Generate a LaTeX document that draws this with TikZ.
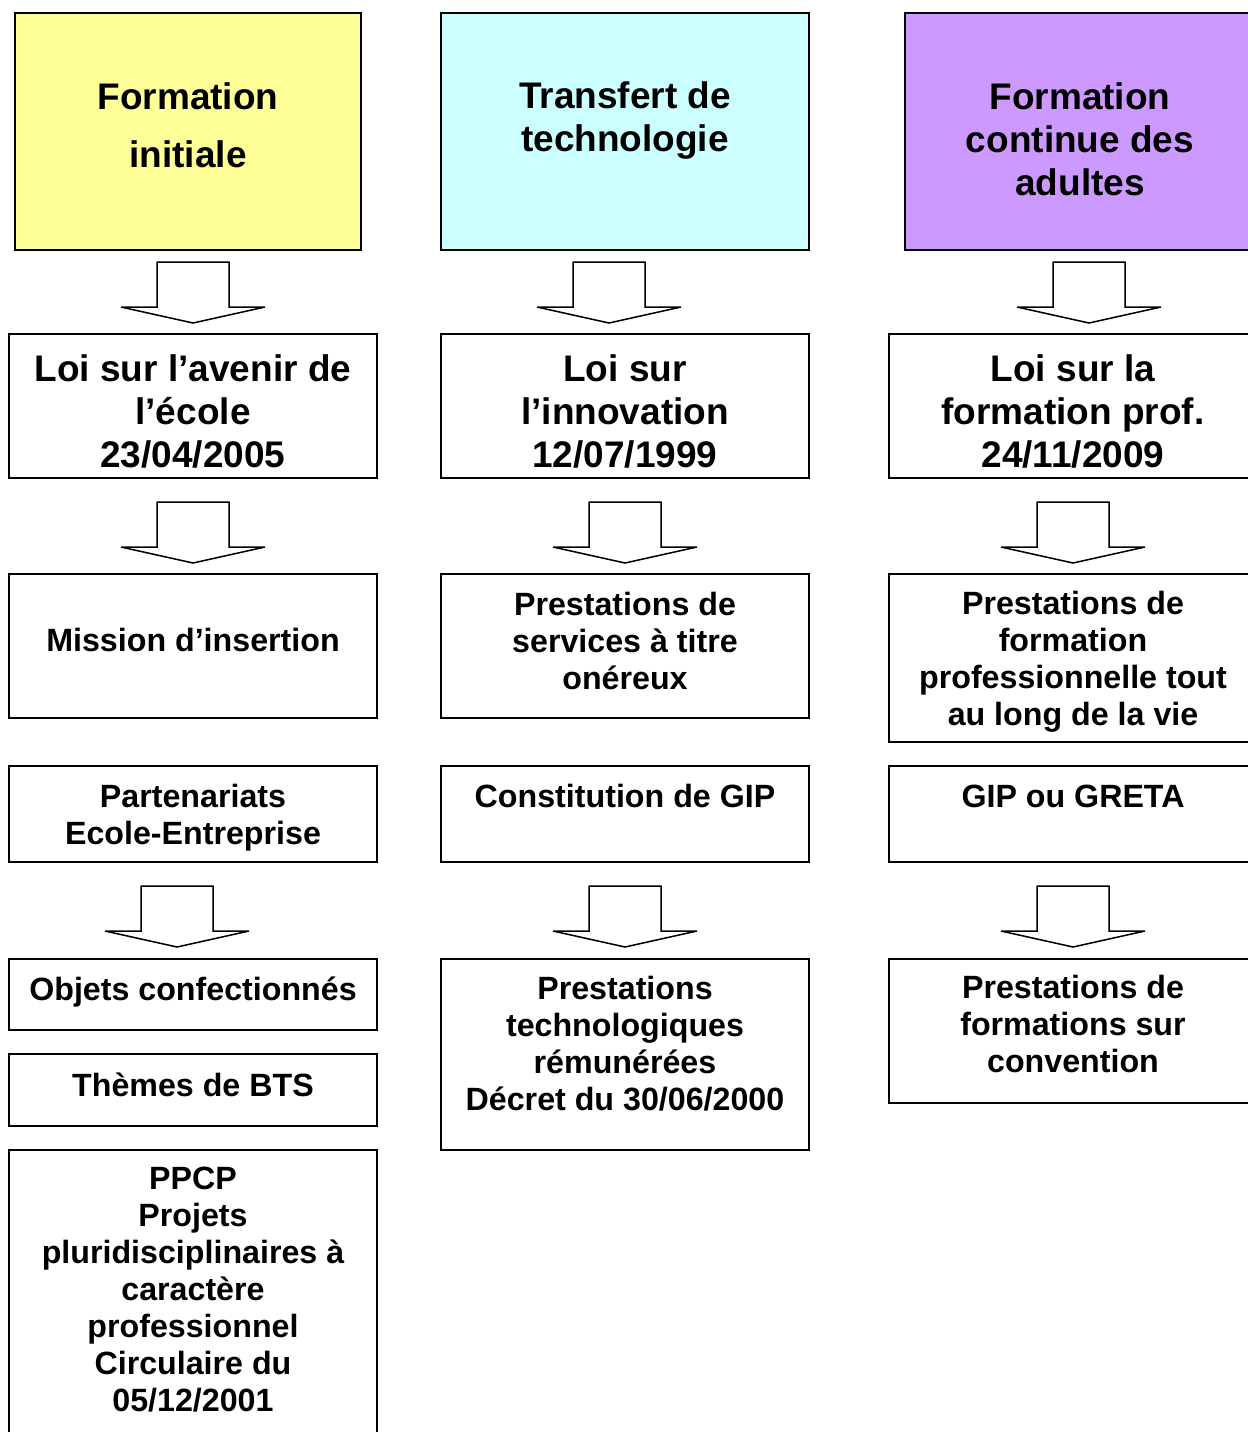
\documentclass[tikz,border=0pt]{standalone}
\usepackage{fontspec}
\setmainfont{Liberation Sans}
\usetikzlibrary{positioning,fit}
\definecolor{paleyellow}{HTML}{FFFF99}
\definecolor{palecyan}{HTML}{CCFFFF}
\definecolor{lilac}{HTML}{CC99FF}

\begin{document}
\begin{tikzpicture}[x=0.5pt, y=-0.5pt,
  box/.style={draw, line width=1pt, inner sep=0pt},
  big/.style={align=center, anchor=base, inner sep=0pt, font=\bfseries\fontsize{18.5}{21.5}\selectfont},
  small/.style={align=center, anchor=base, inner sep=0pt, font=\bfseries\fontsize{16.1}{18.5}\selectfont},
  blockarrow/.style={draw, line width=0.75pt, line join=miter, miter limit=3}
]
\useasboundingbox (0,0) rectangle (1248,1432);
\clip (0,0) rectangle (1248,1432);

% top row (text placed by its last baseline)
\node[box, fill=paleyellow, fit={(15,13) (361,250)}] (init) {};
\node[box, fill=palecyan, fit={(441,13) (809,250)}] (transf) {};
\node[box, fill=lilac, fit={(905,13) (1255,250)}] (contin) {};
\node[big, font=\bfseries\fontsize{18.5}{29}\selectfont] (init-t) at (188,167) {Formation\\initiale};
\node[big] (transf-t) at (625,151) {Transfert de\\technologie};
\node[big] (contin-t) at (1080,195) {Formation\\continue des\\adultes};

% lois
\node[box, fit={(9,334) (377,478)}] (loi1) {};
\node[box, fit={(441,334) (809,478)}] (loi2) {};
\node[box, fit={(889,334) (1257,478)}] (loi3) {};
\node[big] (loi1-t) at (193,467) {Loi sur l’avenir de\\l’école\\23/04/2005};
\node[big] (loi2-t) at (625,467) {Loi sur\\l’innovation\\12/07/1999};
\node[big] (loi3-t) at (1073,467) {Loi sur la\\formation prof.\\24/11/2009};

% missions
\node[box, fit={(9,574) (377,718)}] (mission) {};
\node[box, fit={(441,574) (809,718)}] (presta) {};
\node[box, fit={(889,574) (1257,742)}] (formpro) {};
\node[small] (mission-t) at (193,651) {Mission d’insertion};
\node[small] (presta-t) at (625,689) {Prestations de\\services à titre\\onéreux};
\node[small] (formpro-t) at (1073,725) {Prestations de\\formation\\professionnelle tout\\au long de la vie};

% structures
\node[box, fit={(9,766) (377,862)}] (partn) {};
\node[box, fit={(441,766) (809,862)}] (gip) {};
\node[box, fit={(889,766) (1257,862)}] (greta) {};
\node[small] (partn-t) at (193,844) {Partenariats\\Ecole-Entreprise};
\node[small] (gip-t) at (625,807) {Constitution de GIP};
\node[small] (greta-t) at (1073,807) {GIP ou GRETA};

% realisations
\node[box, fit={(9,959) (377,1030)}] (objets) {};
\node[box, fit={(9,1054) (377,1126)}] (bts) {};
\node[box, fit={(9,1150) (377,1460)}] (ppcp) {};
\node[box, fit={(441,959) (809,1150)}] (techno) {};
\node[box, fit={(889,959) (1257,1103)}] (conv) {};
\node[small] (objets-t) at (193,1000) {Objets confectionnés};
\node[small] (bts-t) at (193,1096) {Thèmes de BTS};
\node[small] (ppcp-t) at (193,1411) {PPCP\\Projets\\pluridisciplinaires à\\caractère\\professionnel\\Circulaire du\\05/12/2001};
\node[small] (techno-t) at (625,1110) {Prestations\\technologiques\\rémunérées\\Décret du 30/06/2000};
\node[small] (conv-t) at (1073,1072) {Prestations de\\formations sur\\convention};

% block arrows
\foreach \cx/\ty in {193/262, 609/262, 1089/262,
                     193/502, 625/502, 1073/502,
                     177/886, 625/886, 1073/886}
  \draw[blockarrow] (\cx-36,\ty) -- (\cx-36,\ty+45) -- (\cx-72,\ty+45) -- (\cx,\ty+61)
    -- (\cx+72,\ty+45) -- (\cx+36,\ty+45) -- (\cx+36,\ty) -- cycle;
\end{tikzpicture}
\end{document}
